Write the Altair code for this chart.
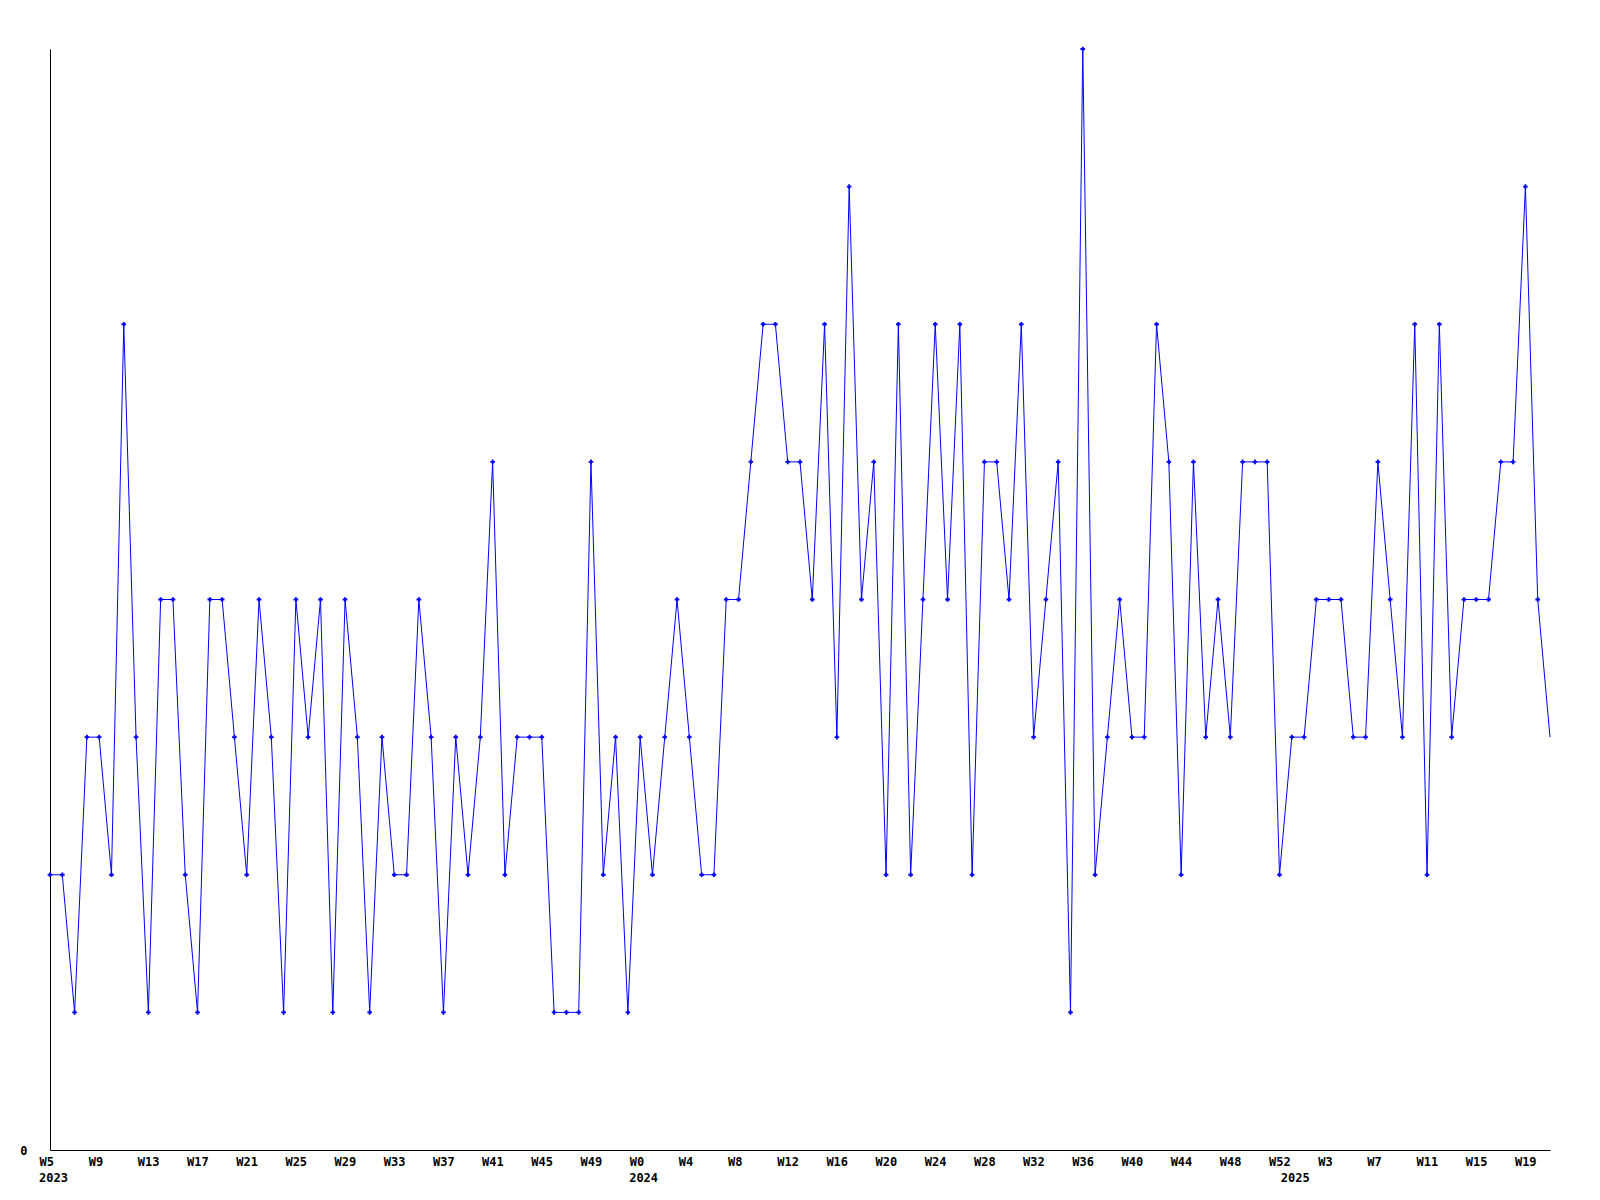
import altair as alt
import pandas as pd

# weekly values, 2023-W5 .. 2025-W21
values = [
    2, 2, 1, 3, 3, 2, 6, 3, 1, 4, 4, 2, 1, 4, 4, 3, 2, 4, 3, 1,
    4, 3, 4, 1, 4, 3, 1, 3, 2, 2, 4, 3, 1, 3, 2, 3, 5, 2, 3, 3,
    3, 1, 1, 1, 5, 2, 3, 1, 3, 2, 3, 4, 3, 2, 2, 4, 4, 5, 6, 6,
    5, 5, 4, 6, 3, 7, 4, 5, 2, 6, 2, 4, 6, 4, 6, 2, 5, 5, 4, 6,
    3, 4, 5, 1, 8, 2, 3, 4, 3, 3, 6, 5, 2, 5, 3, 4, 3, 5, 5, 5,
    2, 3, 3, 4, 4, 4, 3, 3, 5, 4, 3, 6, 2, 6, 3, 4, 4, 4, 5, 5,
    7, 4, 3,
]

tick_labels = ["W5", "W9", "W13", "W17", "W21", "W25", "W29", "W33", "W37", "W41",
               "W45", "W49", "W0", "W4", "W8", "W12", "W16", "W20", "W24", "W28",
               "W32", "W36", "W40", "W44", "W48", "W52", "W3", "W7", "W11", "W15", "W19"]
tick_index = list(range(0, 121, 4))

years = ["2023", "2024", "2025"]
year_index = [0, 48, 101]

W, H = 1500, 1101

df = pd.DataFrame({"i": list(range(len(values))), "v": values})
ydf = pd.DataFrame({"i": year_index, "year": years})

label_js = "[" + ",".join("'%s'" % t for t in tick_labels) + "][datum.value/4]"

xscale = alt.Scale(domain=[0, len(values) - 1], nice=False, zero=False)
yscale = alt.Scale(domain=[0, 8], nice=False)

font = "DejaVu Sans Mono"

x_axis = alt.Axis(values=tick_index, labelExpr=label_js, ticks=False, tickSize=0,
                  grid=False, title=None, domainColor="black", domainWidth=1,
                  labelFont=font, labelFontWeight="bold", labelFontSize=12,
                  labelColor="black", labelAlign="left", labelOffset=-11,
                  labelBaseline="middle", labelPadding=11, labelOverlap=False,
                  labelFlush=False)
y_axis = alt.Axis(values=[0], format="d", ticks=False, tickSize=0, grid=False, title=None,
                  domainColor="black", domainWidth=1, labelFont=font,
                  labelFontWeight="bold", labelFontSize=12, labelColor="black",
                  labelPadding=23, labelBaseline="middle", labelFlush=False)

base = alt.Chart(df)

line = base.mark_line(color="#0000ff", strokeWidth=1).encode(
    x=alt.X("i:Q", scale=xscale, axis=x_axis),
    y=alt.Y("v:Q", scale=yscale, axis=y_axis),
)

pts = base.transform_filter(alt.datum.i < len(values) - 1).mark_point(
    shape="cross", filled=True, color="#0000ff", size=22, opacity=1
).encode(
    x=alt.X("i:Q", scale=xscale),
    y=alt.Y("v:Q", scale=yscale),
)

yr = alt.Chart(ydf).mark_text(
    font=font, fontWeight="bold", fontSize=12, color="black",
    align="left", baseline="middle", dx=-11
).encode(
    x=alt.X("i:Q", scale=xscale),
    y=alt.value(H + 28),
    text="year:N",
)

chart = alt.layer(line, pts, yr).properties(
    width=W, height=H,
    autosize=alt.AutoSizeParams(type="none"),
    padding={"left": 42, "top": 41, "right": 30, "bottom": 50},
).configure(background="white").configure_view(stroke="transparent", strokeWidth=0)

chart.save("out.html", embed_options={"renderer": "svg", "actions": False})
